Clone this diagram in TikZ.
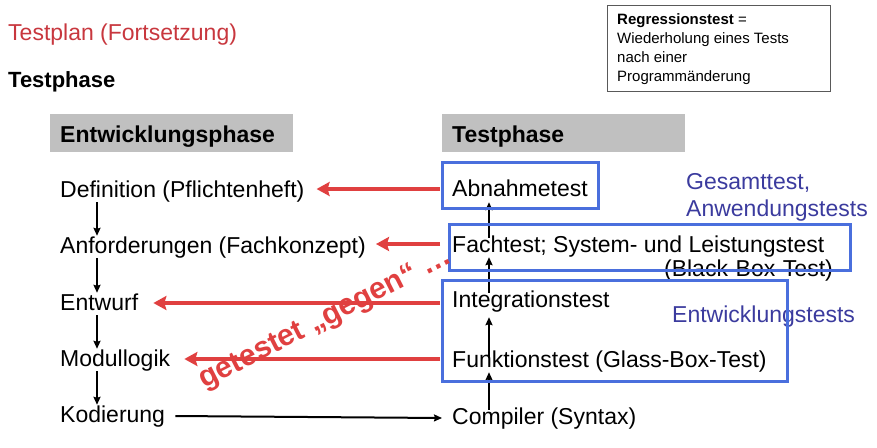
\documentclass[tikz,border=0pt]{standalone}
\usepackage{fontspec}
\setmainfont{Liberation Sans}
\usetikzlibrary{arrows.meta}
\definecolor{titlered}{RGB}{200,55,62}
\definecolor{arrowred}{RGB}{224,64,64}
\definecolor{boxblue}{RGB}{74,111,221}
\definecolor{textblue}{RGB}{59,59,158}
\definecolor{hdrgray}{RGB}{192,192,192}
\tikzset{
  phase/.style={anchor=base west, inner sep=0pt, text height=17pt, text depth=5pt,
                font=\fontsize{23}{27}\selectfont},
  header/.style={anchor=base west, inner sep=0pt, font=\fontsize{23}{27}\selectfont\bfseries},
  flow/.style={line width=2pt, -{Stealth[length=8pt,width=7pt,inset=1pt]}},
  against/.style={draw=arrowred, line width=4pt, -{Stealth[length=13pt,width=14pt,inset=2pt]}},
  groupbox/.style={draw=boxblue, line width=3pt},
  grouplabel/.style={anchor=base west, inner sep=0pt, text=textblue,
                     font=\fontsize{23}{27}\selectfont},
}
\begin{document}
\begin{tikzpicture}[x=1pt,y=-1pt]
\useasboundingbox (0,0) rectangle (877,447);

% slide title
\node[anchor=base west, inner sep=0pt, text=titlered, font=\fontsize{23}{27}\selectfont]
  (title) at (8,40) {Testplan (Fortsetzung)};
\node[anchor=base west, inner sep=0pt, font=\fontsize{22}{26}\selectfont\bfseries]
  (subtitle) at (8,87) {Testphase};

% definition box
\draw[draw=black!65, line width=1pt] (607,5) rectangle (830,91);
\node[anchor=north west, inner sep=0pt, align=left, font=\fontsize{15}{19.3}\selectfont]
  (regtext) at (617,13) {\textbf{Regressionstest} =\\Wiederholung eines Tests\\nach einer\\Programmänderung};

% column headers
\fill[hdrgray] (50,114) rectangle (293,152);
\node[header] (hdev) at (60,142) {Entwicklungsphase};
\fill[hdrgray] (442,114) rectangle (685,152);
\node[header] (htest) at (452,142) {Testphase};

% development phases
\node[phase] (def) at (60,197) {Definition (Pflichtenheft)};
\node[phase] (anf) at (60,253) {Anforderungen (Fachkonzept)};
\node[phase] (ent) at (60,310) {Entwurf};
\node[phase] (mod) at (60,366) {Modullogik};
\node[phase] (kod) at (60,422) {Kodierung};

% test phases
\node[phase] (abn) at (452,196) {Abnahmetest};
\node[phase] (fach) at (452,252) {Fachtest; System- und Leistungstest};
\node[anchor=base east, inner sep=0pt, font=\fontsize{23}{27}\selectfont]
  (bbox) at (833,276) {(Black-Box-Test)};
\node[phase] (integ) at (452,307) {Integrationstest};
\node[phase] (funk) at (452,367) {Funktionstest (Glass-Box-Test)};
\node[phase] (comp) at (452,424) {Compiler (Syntax)};

% group labels
\node[grouplabel] (gesamt) at (686,189) {Gesamttest,};
\node[grouplabel] (anw) at (686,216) {Anwendungstests};
\node[grouplabel] (entw) at (672,322) {Entwicklungstests};

% development sequence
\draw[flow] ([xshift=37pt]def.south west) -- ([xshift=37pt]anf.north west);
\draw[flow] ([xshift=37pt]anf.south west) -- ([xshift=37pt]ent.north west);
\draw[flow] ([xshift=37pt]ent.south west) -- ([xshift=37pt]mod.north west);
\draw[flow] ([xshift=37pt]mod.south west) -- ([xshift=37pt]kod.north west);
\draw[flow] ([xshift=10pt]kod.east) -- ([xshift=-10pt]comp.west);

% test sequence
\draw[flow] ([xshift=37pt,yshift=-3pt]comp.north west) -- ([xshift=37pt]funk.south west);
\draw[flow] ([xshift=37pt,yshift=-8pt]funk.north west) -- ([xshift=37pt,yshift=-5pt]integ.south west);
\draw[flow] ([xshift=37pt,yshift=-3pt]integ.north west) -- ([xshift=37pt]fach.south west);
\draw[flow] ([xshift=37pt,yshift=-3pt]fach.north west) -- ([xshift=37pt,yshift=-1pt]abn.south west);

% "tested against" links
\draw[against] ([xshift=-12pt,yshift=1pt]abn.west) -- ([xshift=12pt,yshift=1pt]abn.west -| def.east);
\draw[against] ([xshift=-12pt,yshift=2pt]fach.west) -- ([xshift=10pt,yshift=2pt]fach.west -| anf.east);
\draw[against] ([xshift=-12pt,yshift=-2pt]integ.west) -- ([xshift=15pt,yshift=-2pt]integ.west -| ent.east);
\draw[against] ([xshift=-12pt,yshift=2pt]funk.west) -- ([xshift=14pt,yshift=2pt]funk.west -| mod.east);

% test groupings
\draw[groupbox] (442,162) rectangle (598,208);
\draw[groupbox] (449,224) rectangle (850,270);
\draw[groupbox] (442,280) rectangle (787,381);

% diagonal annotation
\node[anchor=base west, inner sep=0pt, rotate=27, text=arrowred,
      font=\fontsize{30}{33}\selectfont\bfseries]
  (gegen) at (204,389) {getestet „gegen“ …};
\end{tikzpicture}
\end{document}
